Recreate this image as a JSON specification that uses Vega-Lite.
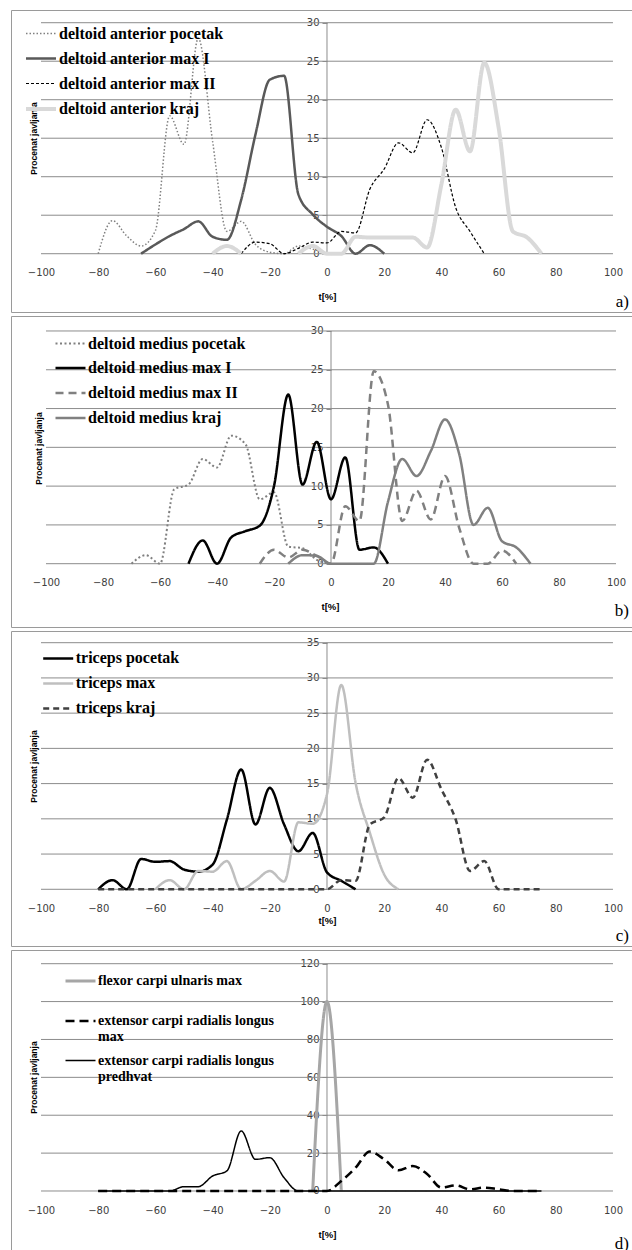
{
"$schema": "https://vega.github.io/schema/vega-lite/v6.json",
"background": "white",
"padding": {"left": 10, "top": 9, "right": 0, "bottom": 0},
"spacing": 4,
"bounds": "flush",
"config": {
  "view": {"stroke": "#9a9a9a", "strokeWidth": 1},
  "axisY": {"domain": false, "grid": false, "tickSize": 5, "tickColor": "#8c8c8c", "labelPadding": 3, "labelFont": "DejaVu Sans", "labelFontSize": 10, "labelColor": "#404040", "titleFont": "Liberation Sans", "titleFontSize": 8.5, "titleFontWeight": "bold", "titleColor": "#000", "titleAngle": -90, "titleAlign": "center", "titleBaseline": "middle"},
  "axisX": {"domain": false, "grid": false, "ticks": false, "tickSize": 0, "labelPadding": 14, "labelFont": "DejaVu Sans", "labelFontSize": 10, "labelColor": "#404040", "labelFlush": false, "labelOverlap": false, "titleFont": "Liberation Sans", "titleFontSize": 9.5, "titleFontWeight": "bold", "titleColor": "#000", "titleAlign": "center", "titleBaseline": "middle"},
  "legend": {"orient": "none", "symbolType": "stroke", "symbolSize": 900, "labelFont": "Liberation Serif", "labelFontWeight": "bold", "labelFontSize": 16, "labelColor": "#000", "labelLimit": 500, "padding": 0, "labelOffset": 1, "rowPadding": 0.5},
  "text": {"font": "Liberation Serif", "fontSize": 17, "color": "#000", "align": "right", "baseline": "middle"}
},
"resolve": {"scale": {"x": "independent", "y": "independent", "color": "independent", "strokeDash": "independent", "strokeWidth": "independent"}, "legend": {"color": "independent", "strokeDash": "independent", "strokeWidth": "independent"}, "axis": {"x": "independent", "y": "independent"}},
"vconcat": [
{
  "width": 622, "height": 302,
  "layer": [
    {
      "data": {"values": [
        {"x": -100, "x2": 100, "y": 0, "y2": 0},
        {"x": -100, "x2": 100, "y": 5, "y2": 5},
        {"x": -100, "x2": 100, "y": 10, "y2": 10},
        {"x": -100, "x2": 100, "y": 15, "y2": 15},
        {"x": -100, "x2": 100, "y": 20, "y2": 20},
        {"x": -100, "x2": 100, "y": 25, "y2": 25},
        {"x": -100, "x2": 100, "y": 30, "y2": 30},
        {"x": 0, "x2": 0, "y": 0, "y2": 30}
      ]},
      "mark": {"type": "rule", "color": "#8c8c8c", "strokeWidth": 1},
      "encoding": {
        "x": {"field": "x", "type": "quantitative", "scale": {"domain": [-110.49, 107.0], "nice": false, "zero": false},
              "axis": {"title": "t[%]", "values": [-100, -80, -60, -40, -20, 0, 20, 40, 60, 80, 100], "offset": -58.3, "titleX": 316, "titleY": 42.3}},
        "x2": {"field": "x2"},
        "y": {"field": "y", "type": "quantitative", "scale": {"domain": [-7.57, 31.65], "nice": false, "zero": false},
              "axis": {"title": "Procenat javljanja", "values": [0, 5, 10, 15, 20, 25, 30], "offset": -316, "titleX": -294, "titleY": 128}},
        "y2": {"field": "y2"}
      }
    },
    {
      "data": {"values": [
        {"t": -80, "deltoid anterior pocetak": 0, "deltoid anterior max I": null, "deltoid anterior max II": null, "deltoid anterior kraj": null},
        {"t": -75, "deltoid anterior pocetak": 4.3, "deltoid anterior max I": null, "deltoid anterior max II": null, "deltoid anterior kraj": null},
        {"t": -70, "deltoid anterior pocetak": 2.3, "deltoid anterior max I": null, "deltoid anterior max II": null, "deltoid anterior kraj": null},
        {"t": -65, "deltoid anterior pocetak": 1.0, "deltoid anterior max I": 0, "deltoid anterior max II": null, "deltoid anterior kraj": null},
        {"t": -60, "deltoid anterior pocetak": 3.0, "deltoid anterior max I": 1.2, "deltoid anterior max II": null, "deltoid anterior kraj": null},
        {"t": -55, "deltoid anterior pocetak": 17.9, "deltoid anterior max I": 2.3, "deltoid anterior max II": null, "deltoid anterior kraj": null},
        {"t": -50, "deltoid anterior pocetak": 14.2, "deltoid anterior max I": 3.2, "deltoid anterior max II": null, "deltoid anterior kraj": null},
        {"t": -45, "deltoid anterior pocetak": 28.0, "deltoid anterior max I": 4.2, "deltoid anterior max II": null, "deltoid anterior kraj": null},
        {"t": -40, "deltoid anterior pocetak": 14.6, "deltoid anterior max I": 2.2, "deltoid anterior max II": null, "deltoid anterior kraj": 0},
        {"t": -35, "deltoid anterior pocetak": 2.9, "deltoid anterior max I": 1.8, "deltoid anterior max II": null, "deltoid anterior kraj": 1.0},
        {"t": -30, "deltoid anterior pocetak": 4.2, "deltoid anterior max I": 7.0, "deltoid anterior max II": 0, "deltoid anterior kraj": 0},
        {"t": -25, "deltoid anterior pocetak": 1.2, "deltoid anterior max I": 15.5, "deltoid anterior max II": 1.5, "deltoid anterior kraj": null},
        {"t": -20, "deltoid anterior pocetak": 0.2, "deltoid anterior max I": 22.6, "deltoid anterior max II": 1.3, "deltoid anterior kraj": null},
        {"t": -15, "deltoid anterior pocetak": 0, "deltoid anterior max I": 23.1, "deltoid anterior max II": 0, "deltoid anterior kraj": null},
        {"t": -10, "deltoid anterior pocetak": 1.0, "deltoid anterior max I": 7.7, "deltoid anterior max II": 0.7, "deltoid anterior kraj": 0},
        {"t": -5, "deltoid anterior pocetak": 0.6, "deltoid anterior max I": 5.1, "deltoid anterior max II": 1.5, "deltoid anterior kraj": 1.0},
        {"t": 0, "deltoid anterior pocetak": 0, "deltoid anterior max I": 3.5, "deltoid anterior max II": 1.4, "deltoid anterior kraj": 0},
        {"t": 5, "deltoid anterior pocetak": null, "deltoid anterior max I": 2.3, "deltoid anterior max II": 2.9, "deltoid anterior kraj": 0},
        {"t": 10, "deltoid anterior pocetak": null, "deltoid anterior max I": 0, "deltoid anterior max II": 2.7, "deltoid anterior kraj": 2.2},
        {"t": 15, "deltoid anterior pocetak": null, "deltoid anterior max I": 1.1, "deltoid anterior max II": 8.4, "deltoid anterior kraj": 2.1},
        {"t": 20, "deltoid anterior pocetak": null, "deltoid anterior max I": 0, "deltoid anterior max II": 11.0, "deltoid anterior kraj": 2.1},
        {"t": 25, "deltoid anterior pocetak": null, "deltoid anterior max I": null, "deltoid anterior max II": 14.4, "deltoid anterior kraj": 2.1},
        {"t": 30, "deltoid anterior pocetak": null, "deltoid anterior max I": null, "deltoid anterior max II": 13.1, "deltoid anterior kraj": 2.1},
        {"t": 35, "deltoid anterior pocetak": null, "deltoid anterior max I": null, "deltoid anterior max II": 17.4, "deltoid anterior kraj": 0.8},
        {"t": 40, "deltoid anterior pocetak": null, "deltoid anterior max I": null, "deltoid anterior max II": 13.8, "deltoid anterior kraj": 9.0},
        {"t": 45, "deltoid anterior pocetak": null, "deltoid anterior max I": null, "deltoid anterior max II": 6.0, "deltoid anterior kraj": 18.7},
        {"t": 50, "deltoid anterior pocetak": null, "deltoid anterior max I": null, "deltoid anterior max II": 2.9, "deltoid anterior kraj": 13.3},
        {"t": 55, "deltoid anterior pocetak": null, "deltoid anterior max I": null, "deltoid anterior max II": 0, "deltoid anterior kraj": 24.8},
        {"t": 60, "deltoid anterior pocetak": null, "deltoid anterior max I": null, "deltoid anterior max II": null, "deltoid anterior kraj": 16.4},
        {"t": 65, "deltoid anterior pocetak": null, "deltoid anterior max I": null, "deltoid anterior max II": null, "deltoid anterior kraj": 2.9},
        {"t": 70, "deltoid anterior pocetak": null, "deltoid anterior max I": null, "deltoid anterior max II": null, "deltoid anterior kraj": 2.1},
        {"t": 75, "deltoid anterior pocetak": null, "deltoid anterior max I": null, "deltoid anterior max II": null, "deltoid anterior kraj": 0}
      ]},
      "transform": [{"fold": ["deltoid anterior pocetak", "deltoid anterior max I", "deltoid anterior max II", "deltoid anterior kraj"], "as": ["s", "v"]}],
      "mark": {"type": "line", "interpolate": "monotone"},
      "encoding": {
        "x": {"field": "t", "type": "quantitative"},
        "y": {"field": "v", "type": "quantitative"},
        "color": {"field": "s", "type": "nominal", "title": null,
                  "scale": {"domain": ["deltoid anterior pocetak", "deltoid anterior max I", "deltoid anterior max II", "deltoid anterior kraj"], "range": ["#808080", "#595959", "#000000", "#d9d9d9"]},
                  "legend": {"legendX": 13, "legendY": 7.5, "rowPadding": 0.5}},
        "strokeDash": {"field": "s", "type": "nominal", "title": null,
                  "scale": {"domain": ["deltoid anterior pocetak", "deltoid anterior max I", "deltoid anterior max II", "deltoid anterior kraj"], "range": [[1.5, 2], [1, 0], [3, 2], [1, 0]]}},
        "strokeWidth": {"field": "s", "type": "nominal", "title": null,
                  "scale": {"type": "ordinal", "domain": ["deltoid anterior pocetak", "deltoid anterior max I", "deltoid anterior max II", "deltoid anterior kraj"], "range": [1.5, 2.5, 1.2, 4]}}
      }
    },
    {
      "data": {"values": [{"x": 105.6, "y": -6.27, "label": "a)"}]},
      "mark": {"type": "text"},
      "encoding": {
        "x": {"field": "x", "type": "quantitative"},
        "y": {"field": "y", "type": "quantitative"},
        "text": {"field": "label"}
      }
    }
  ]
},
{
  "width": 622, "height": 311,
  "layer": [
    {
      "data": {"values": [
        {"x": -100, "x2": 100, "y": 0, "y2": 0},
        {"x": -100, "x2": 100, "y": 5, "y2": 5},
        {"x": -100, "x2": 100, "y": 10, "y2": 10},
        {"x": -100, "x2": 100, "y": 15, "y2": 15},
        {"x": -100, "x2": 100, "y": 20, "y2": 20},
        {"x": -100, "x2": 100, "y": 25, "y2": 25},
        {"x": -100, "x2": 100, "y": 30, "y2": 30},
        {"x": 0, "x2": 0, "y": 0, "y2": 30}
      ]},
      "mark": {"type": "rule", "color": "#8c8c8c", "strokeWidth": 1},
      "encoding": {
        "x": {"field": "x", "type": "quantitative", "scale": {"domain": [-112.28, 105.96], "nice": false, "zero": false},
              "axis": {"title": "t[%]", "values": [-100, -80, -60, -40, -20, 0, 20, 40, 60, 80, 100], "offset": -63.3, "titleX": 319, "titleY": 42.3}},
        "x2": {"field": "x2"},
        "y": {"field": "y", "type": "quantitative", "scale": {"domain": [-8.16, 31.93], "nice": false, "zero": false},
              "axis": {"title": "Procenat javljanja", "values": [0, 5, 10, 15, 20, 25, 30], "offset": -320, "titleX": -293, "titleY": 132}},
        "y2": {"field": "y2"}
      }
    },
    {
      "data": {"values": [
        {"t": -70, "deltoid medius pocetak": 0, "deltoid medius max I": null, "deltoid medius max II": null, "deltoid medius kraj": null},
        {"t": -65, "deltoid medius pocetak": 1.1, "deltoid medius max I": null, "deltoid medius max II": null, "deltoid medius kraj": null},
        {"t": -60, "deltoid medius pocetak": 0, "deltoid medius max I": null, "deltoid medius max II": null, "deltoid medius kraj": null},
        {"t": -55, "deltoid medius pocetak": 9.6, "deltoid medius max I": null, "deltoid medius max II": null, "deltoid medius kraj": null},
        {"t": -50, "deltoid medius pocetak": 10.2, "deltoid medius max I": 0, "deltoid medius max II": null, "deltoid medius kraj": null},
        {"t": -45, "deltoid medius pocetak": 13.5, "deltoid medius max I": 3.0, "deltoid medius max II": null, "deltoid medius kraj": null},
        {"t": -40, "deltoid medius pocetak": 12.4, "deltoid medius max I": 0, "deltoid medius max II": null, "deltoid medius kraj": null},
        {"t": -35, "deltoid medius pocetak": 16.5, "deltoid medius max I": 3.4, "deltoid medius max II": null, "deltoid medius kraj": null},
        {"t": -30, "deltoid medius pocetak": 15.4, "deltoid medius max I": 4.2, "deltoid medius max II": null, "deltoid medius kraj": null},
        {"t": -25, "deltoid medius pocetak": 8.3, "deltoid medius max I": 4.9, "deltoid medius max II": 0, "deltoid medius kraj": null},
        {"t": -20, "deltoid medius pocetak": 9.2, "deltoid medius max I": 10.0, "deltoid medius max II": 1.8, "deltoid medius kraj": null},
        {"t": -15, "deltoid medius pocetak": 2.2, "deltoid medius max I": 21.8, "deltoid medius max II": 0.8, "deltoid medius kraj": 0},
        {"t": -10, "deltoid medius pocetak": 2.0, "deltoid medius max I": 10.2, "deltoid medius max II": 1.8, "deltoid medius kraj": 1.1},
        {"t": -5, "deltoid medius pocetak": 0.5, "deltoid medius max I": 15.7, "deltoid medius max II": 1.0, "deltoid medius kraj": 1.0},
        {"t": 0, "deltoid medius pocetak": 0, "deltoid medius max I": 8.3, "deltoid medius max II": 0, "deltoid medius kraj": 0},
        {"t": 5, "deltoid medius pocetak": null, "deltoid medius max I": 13.7, "deltoid medius max II": 7.4, "deltoid medius kraj": 0},
        {"t": 10, "deltoid medius pocetak": null, "deltoid medius max I": 1.8, "deltoid medius max II": 5.5, "deltoid medius kraj": 0},
        {"t": 15, "deltoid medius pocetak": null, "deltoid medius max I": 2.1, "deltoid medius max II": 24.8, "deltoid medius kraj": 0},
        {"t": 20, "deltoid medius pocetak": null, "deltoid medius max I": 0, "deltoid medius max II": 20.5, "deltoid medius kraj": 8.0},
        {"t": 25, "deltoid medius pocetak": null, "deltoid medius max I": null, "deltoid medius max II": 5.5, "deltoid medius kraj": 13.5},
        {"t": 30, "deltoid medius pocetak": null, "deltoid medius max I": null, "deltoid medius max II": 9.4, "deltoid medius kraj": 11.3},
        {"t": 35, "deltoid medius pocetak": null, "deltoid medius max I": null, "deltoid medius max II": 5.7, "deltoid medius kraj": 14.5},
        {"t": 40, "deltoid medius pocetak": null, "deltoid medius max I": null, "deltoid medius max II": 11.3, "deltoid medius kraj": 18.6},
        {"t": 45, "deltoid medius pocetak": null, "deltoid medius max I": null, "deltoid medius max II": 4.6, "deltoid medius kraj": 14.1},
        {"t": 50, "deltoid medius pocetak": null, "deltoid medius max I": null, "deltoid medius max II": 0, "deltoid medius kraj": 5.0},
        {"t": 55, "deltoid medius pocetak": null, "deltoid medius max I": null, "deltoid medius max II": 0, "deltoid medius kraj": 7.2},
        {"t": 60, "deltoid medius pocetak": null, "deltoid medius max I": null, "deltoid medius max II": 1.7, "deltoid medius kraj": 2.9},
        {"t": 65, "deltoid medius pocetak": null, "deltoid medius max I": null, "deltoid medius max II": 0, "deltoid medius kraj": 2.1},
        {"t": 70, "deltoid medius pocetak": null, "deltoid medius max I": null, "deltoid medius max II": null, "deltoid medius kraj": 0}
      ]},
      "transform": [{"fold": ["deltoid medius pocetak", "deltoid medius max I", "deltoid medius max II", "deltoid medius kraj"], "as": ["s", "v"]}],
      "mark": {"type": "line", "interpolate": "monotone"},
      "encoding": {
        "x": {"field": "t", "type": "quantitative"},
        "y": {"field": "v", "type": "quantitative"},
        "color": {"field": "s", "type": "nominal", "title": null,
                  "scale": {"domain": ["deltoid medius pocetak", "deltoid medius max I", "deltoid medius max II", "deltoid medius kraj"], "range": ["#808080", "#000000", "#808080", "#808080"]},
                  "legend": {"legendX": 43, "legendY": 11.5, "rowPadding": -0.7}},
        "strokeDash": {"field": "s", "type": "nominal", "title": null,
                  "scale": {"domain": ["deltoid medius pocetak", "deltoid medius max I", "deltoid medius max II", "deltoid medius kraj"], "range": [[2, 2.5], [1, 0], [8, 5], [1, 0]]}},
        "strokeWidth": {"field": "s", "type": "nominal", "title": null,
                  "scale": {"type": "ordinal", "domain": ["deltoid medius pocetak", "deltoid medius max I", "deltoid medius max II", "deltoid medius kraj"], "range": [2, 2.5, 2.5, 2.5]}}
      }
    },
    {
      "data": {"values": [{"x": 104.56, "y": -6.1, "label": "b)"}]},
      "mark": {"type": "text"},
      "encoding": {
        "x": {"field": "x", "type": "quantitative"},
        "y": {"field": "y", "type": "quantitative"},
        "text": {"field": "label"}
      }
    }
  ]
},
{
  "width": 622, "height": 315,
  "layer": [
    {
      "data": {"values": [
        {"x": -100, "x2": 100, "y": 0, "y2": 0},
        {"x": -100, "x2": 100, "y": 5, "y2": 5},
        {"x": -100, "x2": 100, "y": 10, "y2": 10},
        {"x": -100, "x2": 100, "y": 15, "y2": 15},
        {"x": -100, "x2": 100, "y": 20, "y2": 20},
        {"x": -100, "x2": 100, "y": 25, "y2": 25},
        {"x": -100, "x2": 100, "y": 30, "y2": 30},
        {"x": -100, "x2": 100, "y": 35, "y2": 35},
        {"x": 0, "x2": 0, "y": 0, "y2": 35}
      ]},
      "mark": {"type": "rule", "color": "#8c8c8c", "strokeWidth": 1},
      "encoding": {
        "x": {"field": "x", "type": "quantitative", "scale": {"domain": [-110.49, 107.0], "nice": false, "zero": false},
              "axis": {"title": "t[%]", "values": [-100, -80, -60, -40, -20, 0, 20, 40, 60, 80, 100], "offset": -56.7, "titleX": 316, "titleY": 31}},
        "x2": {"field": "x2"},
        "y": {"field": "y", "type": "quantitative", "scale": {"domain": [-8.05, 36.66], "nice": false, "zero": false},
              "axis": {"title": "Procenat javljanja", "values": [0, 5, 10, 15, 20, 25, 30, 35], "offset": -316, "titleX": -293.5, "titleY": 135}},
        "y2": {"field": "y2"}
      }
    },
    {
      "data": {"values": [
        {"t": -80, "triceps pocetak": 0, "triceps max": null, "triceps kraj": 0},
        {"t": -75, "triceps pocetak": 1.3, "triceps max": null, "triceps kraj": 0},
        {"t": -70, "triceps pocetak": 0, "triceps max": null, "triceps kraj": 0},
        {"t": -65, "triceps pocetak": 4.3, "triceps max": null, "triceps kraj": 0},
        {"t": -60, "triceps pocetak": 3.9, "triceps max": 0, "triceps kraj": 0},
        {"t": -55, "triceps pocetak": 4.0, "triceps max": 1.3, "triceps kraj": 0},
        {"t": -50, "triceps pocetak": 2.8, "triceps max": 0, "triceps kraj": 0},
        {"t": -45, "triceps pocetak": 2.5, "triceps max": 2.6, "triceps kraj": 0},
        {"t": -40, "triceps pocetak": 3.5, "triceps max": 2.5, "triceps kraj": 0},
        {"t": -35, "triceps pocetak": 9.9, "triceps max": 4.0, "triceps kraj": 0},
        {"t": -30, "triceps pocetak": 17.0, "triceps max": 0, "triceps kraj": 0},
        {"t": -25, "triceps pocetak": 9.2, "triceps max": 1.2, "triceps kraj": 0},
        {"t": -20, "triceps pocetak": 14.4, "triceps max": 2.6, "triceps kraj": 0},
        {"t": -15, "triceps pocetak": 9.2, "triceps max": 1.1, "triceps kraj": 0},
        {"t": -10, "triceps pocetak": 5.4, "triceps max": 9.5, "triceps kraj": 0},
        {"t": -5, "triceps pocetak": 8.0, "triceps max": 9.3, "triceps kraj": 0},
        {"t": 0, "triceps pocetak": 2.4, "triceps max": 13.5, "triceps kraj": 0},
        {"t": 5, "triceps pocetak": 1.2, "triceps max": 29.0, "triceps kraj": 1.3},
        {"t": 10, "triceps pocetak": 0, "triceps max": 15.1, "triceps kraj": 1.2},
        {"t": 15, "triceps pocetak": null, "triceps max": 8.0, "triceps kraj": 9.2},
        {"t": 20, "triceps pocetak": null, "triceps max": 2.1, "triceps kraj": 10.2},
        {"t": 25, "triceps pocetak": null, "triceps max": 0, "triceps kraj": 15.8},
        {"t": 30, "triceps pocetak": null, "triceps max": null, "triceps kraj": 13.0},
        {"t": 35, "triceps pocetak": null, "triceps max": null, "triceps kraj": 18.4},
        {"t": 40, "triceps pocetak": null, "triceps max": null, "triceps kraj": 14.2},
        {"t": 45, "triceps pocetak": null, "triceps max": null, "triceps kraj": 9.9},
        {"t": 50, "triceps pocetak": null, "triceps max": null, "triceps kraj": 2.6},
        {"t": 55, "triceps pocetak": null, "triceps max": null, "triceps kraj": 4.0},
        {"t": 60, "triceps pocetak": null, "triceps max": null, "triceps kraj": 0},
        {"t": 65, "triceps pocetak": null, "triceps max": null, "triceps kraj": 0},
        {"t": 70, "triceps pocetak": null, "triceps max": null, "triceps kraj": 0},
        {"t": 75, "triceps pocetak": null, "triceps max": null, "triceps kraj": 0}
      ]},
      "transform": [{"fold": ["triceps pocetak", "triceps max", "triceps kraj"], "as": ["s", "v"]}],
      "mark": {"type": "line", "interpolate": "monotone"},
      "encoding": {
        "x": {"field": "t", "type": "quantitative"},
        "y": {"field": "v", "type": "quantitative"},
        "color": {"field": "s", "type": "nominal", "title": null,
                  "scale": {"domain": ["triceps pocetak", "triceps max", "triceps kraj"], "range": ["#000000", "#bfbfbf", "#404040"]},
                  "legend": {"legendX": 30.7, "legendY": 10.9, "rowPadding": -1.3}},
        "strokeDash": {"field": "s", "type": "nominal", "title": null,
                  "scale": {"domain": ["triceps pocetak", "triceps max", "triceps kraj"], "range": [[1, 0], [1, 0], [6, 4]]}},
        "strokeWidth": {"field": "s", "type": "nominal", "title": null,
                  "scale": {"type": "ordinal", "domain": ["triceps pocetak", "triceps max", "triceps kraj"], "range": [2.5, 2.5, 2.5]}}
      }
    },
    {
      "data": {"values": [{"x": 105.6, "y": -6.63, "label": "c)"}]},
      "mark": {"type": "text"},
      "encoding": {
        "x": {"field": "x", "type": "quantitative"},
        "y": {"field": "y", "type": "quantitative"},
        "text": {"field": "label"}
      }
    }
  ]
},
{
  "width": 622, "height": 301,
  "layer": [
    {
      "data": {"values": [
        {"x": -100, "x2": 100, "y": 0, "y2": 0},
        {"x": -100, "x2": 100, "y": 20, "y2": 20},
        {"x": -100, "x2": 100, "y": 40, "y2": 40},
        {"x": -100, "x2": 100, "y": 60, "y2": 60},
        {"x": -100, "x2": 100, "y": 80, "y2": 80},
        {"x": -100, "x2": 100, "y": 100, "y2": 100},
        {"x": -100, "x2": 100, "y": 120, "y2": 120},
        {"x": 0, "x2": 0, "y": 0, "y2": 120}
      ]},
      "mark": {"type": "rule", "color": "#8c8c8c", "strokeWidth": 1},
      "encoding": {
        "x": {"field": "x", "type": "quantitative", "scale": {"domain": [-110.49, 107.0], "nice": false, "zero": false},
              "axis": {"title": "t[%]", "values": [-100, -80, -60, -40, -20, 0, 20, 40, 60, 80, 100], "offset": -60, "titleX": 316, "titleY": 43.3}},
        "x2": {"field": "x2"},
        "y": {"field": "y", "type": "quantitative", "scale": {"domain": [-31.68, 127.23], "nice": false, "zero": false},
              "axis": {"title": "Procenat javljanja", "values": [0, 20, 40, 60, 80, 100, 120], "offset": -316, "titleX": -293.5, "titleY": 127}},
        "y2": {"field": "y2"}
      }
    },
    {
      "data": {"values": [
        {"t": -80, "flexor carpi ulnaris max": null, "extensor carpi radialis longus|max": 0, "extensor carpi radialis longus|predhvat": 0},
        {"t": -75, "flexor carpi ulnaris max": null, "extensor carpi radialis longus|max": 0, "extensor carpi radialis longus|predhvat": 0},
        {"t": -70, "flexor carpi ulnaris max": null, "extensor carpi radialis longus|max": 0, "extensor carpi radialis longus|predhvat": 0},
        {"t": -65, "flexor carpi ulnaris max": null, "extensor carpi radialis longus|max": 0, "extensor carpi radialis longus|predhvat": 0},
        {"t": -60, "flexor carpi ulnaris max": null, "extensor carpi radialis longus|max": 0, "extensor carpi radialis longus|predhvat": 0},
        {"t": -55, "flexor carpi ulnaris max": null, "extensor carpi radialis longus|max": 0, "extensor carpi radialis longus|predhvat": 0},
        {"t": -50, "flexor carpi ulnaris max": null, "extensor carpi radialis longus|max": 0, "extensor carpi radialis longus|predhvat": 2.3},
        {"t": -45, "flexor carpi ulnaris max": null, "extensor carpi radialis longus|max": 0, "extensor carpi radialis longus|predhvat": 2.3},
        {"t": -40, "flexor carpi ulnaris max": null, "extensor carpi radialis longus|max": 0, "extensor carpi radialis longus|predhvat": 7.9},
        {"t": -35, "flexor carpi ulnaris max": null, "extensor carpi radialis longus|max": 0, "extensor carpi radialis longus|predhvat": 10.6},
        {"t": -30, "flexor carpi ulnaris max": null, "extensor carpi radialis longus|max": 0, "extensor carpi radialis longus|predhvat": 31.7},
        {"t": -25, "flexor carpi ulnaris max": null, "extensor carpi radialis longus|max": 0, "extensor carpi radialis longus|predhvat": 16.7},
        {"t": -20, "flexor carpi ulnaris max": null, "extensor carpi radialis longus|max": 0, "extensor carpi radialis longus|predhvat": 17.6},
        {"t": -15, "flexor carpi ulnaris max": null, "extensor carpi radialis longus|max": 0, "extensor carpi radialis longus|predhvat": 7.0},
        {"t": -10, "flexor carpi ulnaris max": null, "extensor carpi radialis longus|max": 0, "extensor carpi radialis longus|predhvat": 0},
        {"t": -5, "flexor carpi ulnaris max": 0, "extensor carpi radialis longus|max": 0, "extensor carpi radialis longus|predhvat": 0},
        {"t": 0, "flexor carpi ulnaris max": 100, "extensor carpi radialis longus|max": 0, "extensor carpi radialis longus|predhvat": 0},
        {"t": 5, "flexor carpi ulnaris max": 0, "extensor carpi radialis longus|max": 5.3, "extensor carpi radialis longus|predhvat": 0},
        {"t": 10, "flexor carpi ulnaris max": null, "extensor carpi radialis longus|max": 12.3, "extensor carpi radialis longus|predhvat": 0},
        {"t": 15, "flexor carpi ulnaris max": null, "extensor carpi radialis longus|max": 20.8, "extensor carpi radialis longus|predhvat": 0},
        {"t": 20, "flexor carpi ulnaris max": null, "extensor carpi radialis longus|max": 16.7, "extensor carpi radialis longus|predhvat": 0},
        {"t": 25, "flexor carpi ulnaris max": null, "extensor carpi radialis longus|max": 10.9, "extensor carpi radialis longus|predhvat": 0},
        {"t": 30, "flexor carpi ulnaris max": null, "extensor carpi radialis longus|max": 13.2, "extensor carpi radialis longus|predhvat": 0},
        {"t": 35, "flexor carpi ulnaris max": null, "extensor carpi radialis longus|max": 9.0, "extensor carpi radialis longus|predhvat": 0},
        {"t": 40, "flexor carpi ulnaris max": null, "extensor carpi radialis longus|max": 1.8, "extensor carpi radialis longus|predhvat": 0},
        {"t": 45, "flexor carpi ulnaris max": null, "extensor carpi radialis longus|max": 3.0, "extensor carpi radialis longus|predhvat": 0},
        {"t": 50, "flexor carpi ulnaris max": null, "extensor carpi radialis longus|max": 0.9, "extensor carpi radialis longus|predhvat": 0},
        {"t": 55, "flexor carpi ulnaris max": null, "extensor carpi radialis longus|max": 1.8, "extensor carpi radialis longus|predhvat": 0},
        {"t": 60, "flexor carpi ulnaris max": null, "extensor carpi radialis longus|max": 0.9, "extensor carpi radialis longus|predhvat": 0},
        {"t": 65, "flexor carpi ulnaris max": null, "extensor carpi radialis longus|max": 0, "extensor carpi radialis longus|predhvat": 0},
        {"t": 70, "flexor carpi ulnaris max": null, "extensor carpi radialis longus|max": 0, "extensor carpi radialis longus|predhvat": 0},
        {"t": 75, "flexor carpi ulnaris max": null, "extensor carpi radialis longus|max": 0, "extensor carpi radialis longus|predhvat": 0}
      ]},
      "transform": [{"fold": ["flexor carpi ulnaris max", "extensor carpi radialis longus|max", "extensor carpi radialis longus|predhvat"], "as": ["s", "v"]}],
      "mark": {"type": "line", "interpolate": "monotone"},
      "encoding": {
        "x": {"field": "t", "type": "quantitative"},
        "y": {"field": "v", "type": "quantitative"},
        "color": {"field": "s", "type": "nominal", "title": null,
                  "scale": {"domain": ["flexor carpi ulnaris max", "extensor carpi radialis longus|max", "extensor carpi radialis longus|predhvat"], "range": ["#a6a6a6", "#000000", "#000000"]},
                  "legend": {"legendX": 53, "legendY": 14.5, "rowPadding": -5, "labelFontSize": 14, "labelExpr": "datum.label == 'flexor carpi ulnaris max' ? ['flexor carpi ulnaris max', ' '] : split(datum.label, '|')"}},
        "strokeDash": {"field": "s", "type": "nominal", "title": null,
                  "scale": {"domain": ["flexor carpi ulnaris max", "extensor carpi radialis longus|max", "extensor carpi radialis longus|predhvat"], "range": [[1, 0], [9, 5], [1, 0]]}},
        "strokeWidth": {"field": "s", "type": "nominal", "title": null,
                  "scale": {"type": "ordinal", "domain": ["flexor carpi ulnaris max", "extensor carpi radialis longus|max", "extensor carpi radialis longus|predhvat"], "range": [3, 2.5, 1.5]}}
      }
    },
    {
      "data": {"values": [{"x": 105.6, "y": -27.73, "label": "d)"}]},
      "mark": {"type": "text"},
      "encoding": {
        "x": {"field": "x", "type": "quantitative"},
        "y": {"field": "y", "type": "quantitative"},
        "text": {"field": "label"}
      }
    }
  ]
}
]
}
